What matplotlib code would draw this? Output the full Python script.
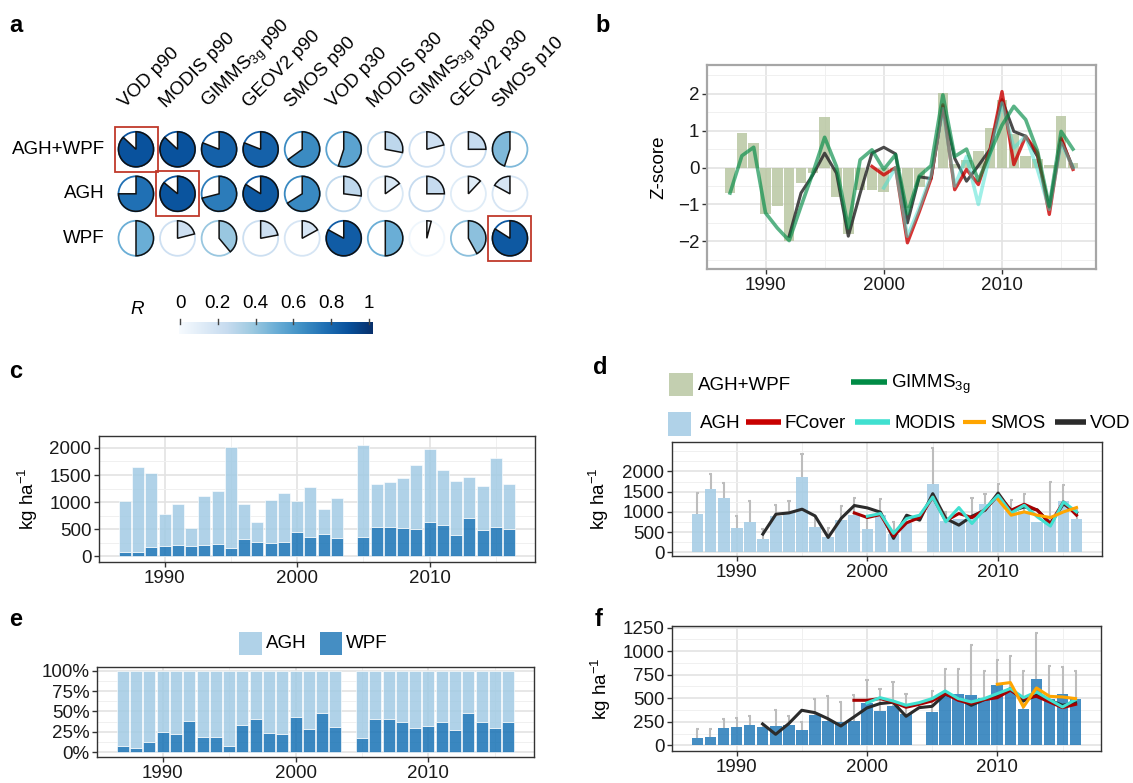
import numpy as np
import matplotlib
matplotlib.use("Agg")
import matplotlib.pyplot as plt
from matplotlib.patches import Wedge, Circle, Rectangle
from matplotlib.ticker import MultipleLocator, PercentFormatter

plt.rcParams['font.family'] = ['Liberation Sans', 'DejaVu Sans']
plt.rcParams['mathtext.fontset'] = 'custom'
plt.rcParams['mathtext.rm'] = 'Liberation Sans'
plt.rcParams['mathtext.it'] = 'Liberation Sans:italic'
FS = 13.5
plt.rcParams['font.size'] = FS

nan = np.nan

# --- panel a: correlation pies ---
row_labels = ["AGH+WPF", "AGH", "WPF"]
col_labels = ["VOD p90", "MODIS p90", r"GIMMS$_{\mathrm{3g}}$ p90", "GEOV2 p90", "SMOS p90",
              "VOD p30", "MODIS p30", r"GIMMS$_{\mathrm{3g}}$ p30", "GEOV2 p30", "SMOS p10"]
r_agh_wpf = [0.87, 0.87, 0.81, 0.81, 0.65, 0.55, 0.28, 0.21, 0.25, -0.45]
r_agh = [0.75, 0.86, 0.71, 0.84, 0.66, 0.27, 0.15, 0.25, 0.12, -0.17]
r_wpf = [0.50, 0.21, 0.39, 0.22, 0.17, 0.83, 0.50, 0.04, 0.42, 0.84]
best_cells = [(0, 0), (1, 1), (2, 9)]
cbar_ticks = [0, 0.2, 0.4, 0.6, 0.8, 1]

# --- yearly data ---
years = np.arange(1987, 2017)
agh = [941, 1558, 1351, 597, 748, 319, 899, 992, 1853, 638, 373, 790, 913, 576, 925, 454, 735, nan,
       1698, 786, 817, 909, 1186, 1351, 1010, 1011, 757, 815, 1267, 833]
wpf = [74, 85, 181, 191, 212, 198, 209, 220, 159, 322, 255, 244, 262, 446, 361, 414, 336, nan,
       351, 549, 549, 531, 506, 637, 584, 386, 701, 490, 542, 496]
agh_upper = [1475, 1950, 1725, 908, 1275, 575, 1175, 1275, 2425, 858, 600, 1158, 1350, 875, 1325, 742, nan, nan,
             2575, 992, nan, 1350, 1433, 1700, 1283, 1433, nan, 1742, 1658, 1040]
wpf_upper = [170, 170, 283, 294, 312, 230, 372, 312, 251, 496, 520, 464, 538, 698, 602, 669, 549, nan,
             577, 814, 814, 1062, 793, 910, 953, 786, 1197, 846, 836, 793]

# z-scores (panel b)
z_total = [-0.69, 0.95, 0.67, -1.26, -1.03, -2.0, -0.43, -0.15, 1.37, -0.81, -1.79, -0.6, -0.6, -0.65, -0.1,
           -1.1, -0.52, nan, 2.02, 0.1, 0.2, 0.44, 1.07, 1.84, 0.9, 0.31, 0.24, 0.07, 1.4, 0.13]
z_gimms = [-0.69, 0.32, 0.55, -1.23, -1.64, -1.98, -1.05, -0.15, 0.82, 0.03, -1.64, 0.21, 0.48, -0.05, 0.35,
           -1.25, -0.23, 0.05, 1.97, 0.3, 0.5, -0.35, 0.4, 1.15, 1.66, 1.3, 0.45, -1.05, 0.98, 0.5]
z_vod = [nan] * 5 + [-1.86, -0.69, -0.2, 0.39, -0.15, -1.86, -0.7, 0.39, 0.55, 0.37, -1.5, -0.25, -0.3,
                     1.66, 0.25, -0.37, 0.05, 0.5, 1.84, 0.98, 0.85, 0.3, -1.1, 0.76, 0.0]
z_fcover = [nan] * 12 + [0.03, -0.2, 0.0, -2.04, -1.2, -0.3, 1.7, -0.6, -0.05, -0.46, 0.5, 2.06, 0.08,
                         0.85, 0.4, -1.27, 0.8, -0.05]
z_modis = [nan] * 13 + [-0.55, 0.0, -1.86, -1.1, -0.2, 1.6, -0.5, 0.3, -1.0, 0.4, 1.75, 0.53, 0.85,
                        -0.05, -1.13, 0.67, 0.0]

# predicted AGH (panel d)
d_vod = [nan] * 5 + [450, 942, 975, 1067, 900, 367, 842, 1158, 1098, 992, 344, 918, 795, 1451, 836, 672,
                     893, 1041, 1467, 1016, 1123, 1050, 700, 1200, 980]
d_fcover = [nan] * 12 + [975, 860, 934, 400, 730, 860, 1369, 779, 959, 860, 1057, 1410, 1041, 1189, 1041,
                         713, 1246, 918]
d_modis = [nan] * 13 + [893, 959, 467, 836, 918, 1369, 754, 1107, 713, 1082, 1410, 975, 1164, 877, 648,
                        1246, 1000]
d_smos = [nan] * 23 + [1303, 918, 1000, 918, 860, 1000, 1107]

# predicted WPF (panel f)
f_vod = [nan] * 5 + [227, 117, 230, 372, 347, 283, 205, 301, 397, 443, 457, 308, 400, 414, 542, 496, 425,
                     485, 520, 602, 471, 531, 478, 425, 450]
f_fcover = [nan] * 12 + [478, 478, 496, 460, 404, 435, 471, 549, 478, 443, 485, 506, 584, 496, 520, 460,
                         400, 435]
f_modis = [nan] * 13 + [450, 506, 471, 425, 453, 496, 577, 496, 460, 496, 549, 602, 506, 567, 485, 407, 485]
f_smos = [nan] * 23 + [648, 666, 407, 609, 520, 513, 496]

# --- colours ---
C_TOT = '#b5c39c'
C_AGH = '#a2cbe4'
C_WPF = '#1772b5'
C_GIMMS = '#008b45'
C_FCOVER = '#a50000'
C_MODIS = '#40e0d0'
C_SMOS = '#ffa500'
C_VOD = '#2b2b2b'
C_ERR = '#bdbdbd'

W, H = 1133, 783
fig = plt.figure(figsize=(W / 100, H / 100), dpi=100)


def px_axes(l, t, r, b):
    return fig.add_axes([l / W, 1 - b / H, (r - l) / W, (b - t) / H])


def style(ax, border='#333333', blw=1.0):
    ax.set_axisbelow(True)
    ax.grid(which='major', color='#e3e3e3', lw=1.2)
    ax.grid(which='minor', color='#f0f0f0', lw=0.7)
    for s in ax.spines.values():
        s.set_color(border)
        s.set_linewidth(blw)
    ax.tick_params(which='major', length=3.5, width=1, color='#333333', labelsize=FS, pad=2,
                   labelcolor='#1a1a1a')
    ax.tick_params(which='minor', length=0)
    ax.set_xlim(1985.05, 2017.95)
    ax.xaxis.set_major_locator(MultipleLocator(10))
    ax.xaxis.set_minor_locator(MultipleLocator(5))


ok = np.isfinite(np.array(agh, dtype=float))
yr = years[ok]
agh_a = np.array(agh, dtype=float)[ok]
wpf_a = np.array(wpf, dtype=float)[ok]


def errbars(ax, vals, upper):
    vals = np.array(vals, dtype=float)
    upper = np.array(upper, dtype=float)
    m = np.isfinite(vals) & np.isfinite(upper)
    ax.vlines(years[m], vals[m], upper[m], color=C_ERR, lw=1.5, zorder=1.5)
    ax.hlines(upper[m], years[m] - 0.12, years[m] + 0.12, color=C_ERR, lw=1.5, zorder=1.5)


# --- b ---
ax = px_axes(707, 65, 1096, 269)
style(ax, border='#a6a6a6', blw=1.6)
zt = np.array(z_total, dtype=float)
mt = np.isfinite(zt)
ax.bar(years[mt], zt[mt], 0.9, color=C_TOT, alpha=0.8, lw=0, zorder=2)
ax.plot(years, z_vod, color=C_VOD, lw=2.2, alpha=0.85, zorder=3)
ax.plot(years, z_fcover, color='#cc0000', lw=2.4, alpha=0.8, zorder=3)
ax.plot(years, z_modis, color=C_MODIS, lw=2.6, alpha=0.5, zorder=3)
ax.plot(years, z_gimms, color=C_GIMMS, lw=2.6, alpha=0.65, zorder=4)
ax.set_ylim(-2.75, 2.78)
ax.yaxis.set_major_locator(MultipleLocator(1))
ax.yaxis.set_minor_locator(MultipleLocator(0.5))
ax.set_ylabel('Z-score', fontsize=FS)
ax.yaxis.set_label_coords(-0.103, 0.5)

# --- c ---
ax = px_axes(99, 436, 535, 562)
style(ax)
ax.bar(yr, wpf_a, 0.9, color=C_WPF, alpha=0.85, ec='white', lw=0.5, zorder=2)
ax.bar(yr, agh_a, 0.9, bottom=wpf_a, color=C_AGH, alpha=0.85, ec='white', lw=0.5, zorder=2)
ax.set_ylim(-105, 2220)
ax.yaxis.set_major_locator(MultipleLocator(500))
ax.yaxis.set_minor_locator(MultipleLocator(250))
ax.set_ylabel(r'kg ha$^{-1}$', fontsize=FS)
ax.yaxis.set_label_coords(-0.135, 0.5)

# --- d ---
ax = px_axes(672, 442, 1102, 556)
style(ax)
errbars(ax, agh, agh_upper)
ax.bar(yr, agh_a, 0.9, color=C_AGH, alpha=0.85, lw=0, zorder=2)
ax.plot(years, d_vod, color=C_VOD, lw=2.2, zorder=3)
ax.plot(years, d_fcover, color=C_FCOVER, lw=2.2, zorder=3)
ax.plot(years, d_modis, color=C_MODIS, lw=2.2, zorder=3)
ax.plot(years, d_smos, color=C_SMOS, lw=2.2, zorder=3)
ax.set_ylim(-92, 2730)
ax.yaxis.set_minor_locator(MultipleLocator(250))
ax.set_yticks([0, 500, 1000, 1500, 2000])
ax.set_ylabel(r'kg ha$^{-1}$', fontsize=FS)
ax.yaxis.set_label_coords(-0.142, 0.5)

# --- e ---
ax = px_axes(97, 667, 534, 757)
style(ax)
pct = wpf_a / (agh_a + wpf_a)
ax.bar(yr, pct, 0.9, color=C_WPF, alpha=0.85, ec='white', lw=0.5, zorder=2)
ax.bar(yr, 1 - pct, 0.9, bottom=pct, color=C_AGH, alpha=0.85, ec='white', lw=0.5, zorder=2)
ax.set_ylim(-0.06, 1.045)
ax.yaxis.set_major_locator(MultipleLocator(0.25))
ax.yaxis.set_minor_locator(MultipleLocator(0.125))
ax.yaxis.set_major_formatter(PercentFormatter(1.0, decimals=0))

# --- f ---
ax = px_axes(672, 626, 1101, 751)
style(ax)
errbars(ax, wpf, wpf_upper)
ax.bar(yr, wpf_a, 0.9, color=C_WPF, alpha=0.8, lw=0, zorder=2)
ax.plot(years, f_vod, color=C_VOD, lw=2.2, zorder=3)
ax.plot(years, f_fcover, color=C_FCOVER, lw=2.2, zorder=3)
ax.plot(years, f_modis, color=C_MODIS, lw=2.2, zorder=3)
ax.plot(years, f_smos, color=C_SMOS, lw=2.2, zorder=3)
ax.set_ylim(-60, 1266)
ax.yaxis.set_major_locator(MultipleLocator(250))
ax.yaxis.set_minor_locator(MultipleLocator(125))
ax.set_ylabel(r'kg ha$^{-1}$', fontsize=FS)
ax.yaxis.set_label_coords(-0.137, 0.5)

# --- overlay in pixel coordinates: pies, colour bar, legends, letters ---
ov = fig.add_axes([0, 0, 1, 1])
ov.axis('off')

x0, dx, y0, dy, rad = 136, 41.55, 149.3, 44.5, 17.5
for i, row in enumerate([r_agh_wpf, r_agh, r_wpf]):
    cy = y0 + i * dy
    ov.text(105, cy, row_labels[i], ha='right', va='center', fontsize=FS)
    for j, r in enumerate(row):
        cx = x0 + j * dx
        col = plt.cm.Blues(abs(r))
        ov.add_patch(Circle((cx, cy), rad, fill=False, ec=col, lw=1.3))
        t1, t2 = (-90, -90 + 360 * r) if r >= 0 else (-90 + 360 * r, -90)
        ov.add_patch(Wedge((cx, cy), rad, t1, t2, fc=col, ec='#111111', lw=1.1))
for j, lab in enumerate(col_labels):
    ov.text(x0 + j * dx - 11, 108, lab, rotation=45, rotation_mode='anchor',
            ha='left', va='baseline', fontsize=FS)
for i, j in best_cells:
    ov.add_patch(Rectangle((x0 + j * dx - 21.5, y0 + i * dy - 22.5), 43, 45,
                           fill=False, ec='#c0392b', lw=1.3))

grad = np.linspace(0, 1, 256)[None, :]
ov.imshow(grad, cmap='Blues', extent=[179, 373, 334, 322], aspect='auto', interpolation='bilinear')
for t in cbar_ticks:
    tx = 180 + 189 * t
    ov.plot([tx, tx], [319, 324], color='#444444', lw=1)
    ov.text(tx, 303, f'{t:g}', ha='center', va='center', fontsize=FS)
ov.text(137, 310, 'R', style='italic', ha='center', va='center', fontsize=FS)

# legend d
ov.add_patch(Rectangle((669, 373), 24, 23, color=C_TOT, alpha=0.8, lw=0))
ov.text(698, 385, 'AGH+WPF', va='center', fontsize=FS)
ov.plot([851, 887], [382, 382], color=C_GIMMS, lw=4, solid_capstyle='butt')
ov.text(891, 384, r'GIMMS$_{\mathrm{3g}}$', va='center', fontsize=FS)
ov.add_patch(Rectangle((668, 412), 23, 24, color=C_AGH, alpha=0.85, lw=0))
ov.text(700, 424, 'AGH', va='center', fontsize=FS)
for xa, xb, c, lw, lab in [(746, 781, '#c80000', 4, 'FCover'), (855, 890, C_MODIS, 4, 'MODIS'),
                           (963, 986, C_SMOS, 3, 'SMOS'), (1055, 1086, C_VOD, 4, 'VOD')]:
    ov.plot([xa, xb], [422, 422], color=c, lw=lw, solid_capstyle='butt')
    ov.text(xb + 4, 424, lab, va='center', fontsize=FS)

# legend e
ov.add_patch(Rectangle((239, 632), 23, 23, color=C_AGH, alpha=0.85, lw=0))
ov.text(266, 644, 'AGH', va='center', fontsize=FS)
ov.add_patch(Rectangle((320, 632), 22, 23, color=C_WPF, alpha=0.8, lw=0))
ov.text(346, 644, 'WPF', va='center', fontsize=FS)

for lab, lx, ly in [('a', 9, 32), ('b', 595, 32), ('c', 9, 378), ('d', 593, 374), ('e', 9, 626),
                    ('f', 595, 626)]:
    ov.text(lx, ly, lab, fontsize=17, fontweight='bold', ha='left', va='baseline')

ov.set_xlim(0, W)
ov.set_ylim(H, 0)

fig.savefig('out.png', dpi=100)
